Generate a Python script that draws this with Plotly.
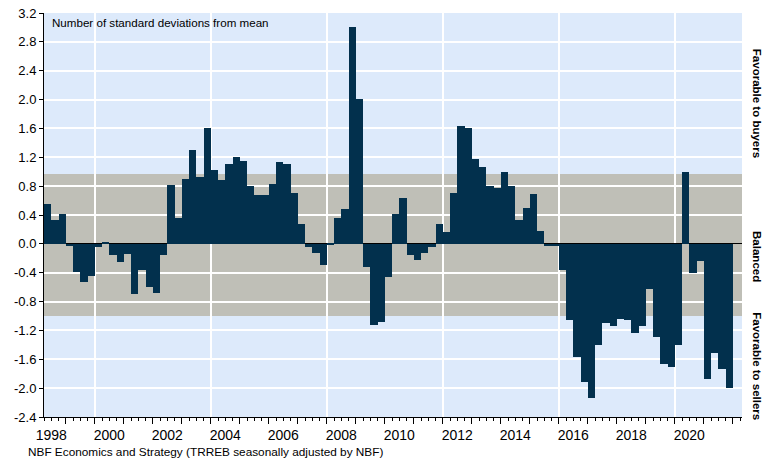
import plotly.graph_objects as go
import pandas as pd

# ---------------- data ----------------
first_quarter = "1998Q2"
values = [
    0.55, 0.33, 0.42,                    # 1998 Q2-Q4
    -0.03, -0.39, -0.53, -0.44,          # 1999
    -0.05, 0.03, -0.16, -0.25,           # 2000
    -0.14, -0.69, -0.36, -0.60,          # 2001
    -0.68, -0.15, 0.81, 0.36,            # 2002
    0.90, 1.30, 0.92, 1.60,              # 2003
    1.03, 0.89, 1.11, 1.20,              # 2004
    1.15, 0.80, 0.68, 0.68,              # 2005
    0.83, 1.13, 1.11, 0.70,              # 2006
    0.28, -0.05, -0.12, -0.29,           # 2007
    -0.02, 0.36, 0.49, 3.00,             # 2008
    2.01, -0.32, -1.13, -1.08,           # 2009
    -0.46, 0.41, 0.64, -0.15,            # 2010
    -0.22, -0.12, -0.05, 0.28,           # 2011
    0.16, 0.70, 1.63, 1.61,              # 2012
    1.17, 1.07, 0.80, 0.77,              # 2013
    1.00, 0.80, 0.33, 0.50,              # 2014
    0.69, 0.18, -0.03, -0.03,            # 2015
    -0.36, -1.05, -1.57, -1.91,          # 2016
    -2.13, -1.40, -1.10, -1.14,          # 2017
    -1.04, -1.06, -1.24, -1.14,          # 2018
    -0.62, -1.29, -1.66, -1.70,          # 2019
    -1.40, 1.00, -0.40, -0.24,           # 2020
    -1.88, -1.51, -1.74, -2.00,          # 2021
]
periods = pd.period_range(first_quarter, periods=len(values), freq="Q")
year_labels = [str(y) for y in range(1998, 2021, 2)]
y_tick_values = [round(-2.4 + 0.4 * i, 1) for i in range(15)]
band_low, band_high = -1.0, 0.97
title_text = "Number of standard deviations from mean"
source_text = "NBF Economics and Strategy (TRREB seasonally adjusted by NBF)"
side_labels = ["Favorable to buyers", "Balanced", "Favorable to sellers"]

# ---------------- styling ----------------
W, H = 773, 461
L, R, T, B = 44, 742, 13.3, 416.7
BG = "#DDEAFB"
BAND = "#BFBFB7"
BAR = "#02304D"
FONT = "Liberation Sans, Arial, sans-serif"

x_centers = [p.year + (p.quarter - 1) / 4 + 0.125 for p in periods]
x_range = [1998.25, 1998.25 + (R - L) / 29.0]
y_range = [-2.4, 3.2]


def px_x(px):
    return (px - L) / (R - L)


def px_y(py):
    return 1 - (py - T) / (B - T)


fig = go.Figure()
fig.add_trace(go.Bar(
    x=x_centers, y=values, width=0.25,
    marker=dict(color=BAR, line=dict(width=0)),
    hovertext=[str(p) for p in periods], showlegend=False,
))
# helper traces for overlay axes (ticks / grid)
fig.add_trace(go.Scatter(x=x_range, y=[0, 0], xaxis="x2", mode="markers",
                         marker=dict(opacity=0), hoverinfo="skip", showlegend=False))
fig.add_trace(go.Scatter(x=x_range, y=[0, 0], xaxis="x3", mode="markers",
                         marker=dict(opacity=0), hoverinfo="skip", showlegend=False))

fig.add_shape(type="rect", xref="paper", yref="y", x0=0, x1=1,
              y0=band_low, y1=band_high, fillcolor=BAND, line=dict(width=0),
              layer="below")

fig.update_layout(
    width=W, height=H, autosize=False,
    margin=dict(l=L, r=W - R, t=T, b=H - B, pad=0),
    paper_bgcolor="white", plot_bgcolor=BG,
    bargap=0,
    font=dict(family=FONT, size=13, color="black"),
    xaxis=dict(
        range=x_range, tickmode="array",
        tickvals=[int(y) + 0.5 for y in year_labels], ticktext=year_labels,
        ticks="outside", ticklen=5, tickcolor="rgba(0,0,0,0)",
        showgrid=False, zeroline=False, automargin=False,
        showline=True, linecolor="black", linewidth=1,
        tickfont=dict(size=14),
        minor=dict(tick0=1998.25, dtick=0.25, ticks="outside", ticklen=3,
                   tickcolor="black", tickwidth=1, showgrid=False),
    ),
    xaxis2=dict(
        overlaying="x", side="bottom", range=x_range,
        tickmode="linear", tick0=1999, dtick=1,
        ticks="outside", ticklen=6, tickcolor="black", tickwidth=1,
        showticklabels=False, showgrid=False, zeroline=False, showline=False,
    ),
    xaxis3=dict(
        overlaying="x", side="bottom", range=x_range,
        tickmode="linear", tick0=2000, dtick=4,
        ticks="", showticklabels=False, showgrid=True,
        gridcolor="white", gridwidth=1.5, zeroline=False, showline=False,
    ),
    yaxis=dict(
        range=y_range, tickmode="array", tickvals=y_tick_values,
        ticktext=[f"{v:.1f}".replace("\u2212", "-") for v in y_tick_values],
        ticks="outside", ticklen=4, tickcolor="black", automargin=False,
        showgrid=True, gridcolor="white", gridwidth=1.5,
        zeroline=True, zerolinecolor="black", zerolinewidth=1,
        showline=True, linecolor="black", linewidth=1,
        tickfont=dict(size=13),
    ),
)

annotations = [
    dict(text=title_text, xref="paper", yref="paper", x=px_x(50), y=px_y(14),
         xanchor="left", yanchor="top", showarrow=False, font=dict(size=11.6)),
    dict(text=source_text, xref="paper", yref="paper", x=px_x(26), y=px_y(452),
         xanchor="left", yanchor="middle", showarrow=False, font=dict(size=11.8)),
]
for label, cy in zip(side_labels, [103, 256, 366]):
    annotations.append(dict(
        text=f"<b>{label}</b>", xref="paper", yref="paper", x=px_x(757), y=px_y(cy),
        xanchor="center", yanchor="middle", textangle=90, showarrow=False,
        font=dict(size=11.5)))
fig.update_layout(annotations=annotations)

fig.write_html(
    "out.html",
    config={"displayModeBar": False},
    post_script="document.body.style.margin='0';document.body.style.overflow='hidden';",
)
